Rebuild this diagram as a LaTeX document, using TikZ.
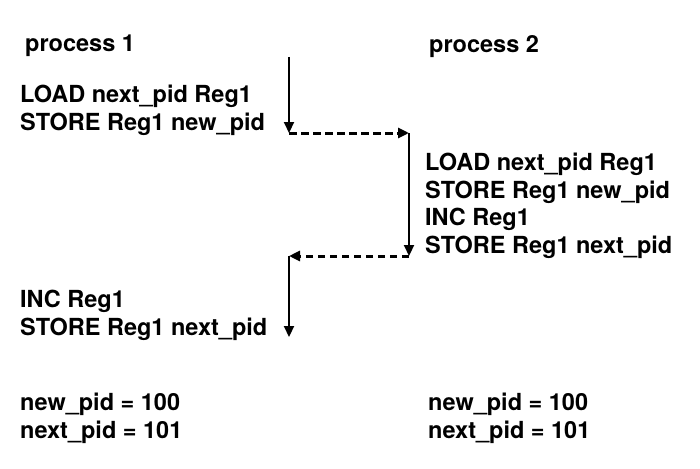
\documentclass[tikz,border=0pt]{standalone}
\usepackage{fontspec}
\setmainfont{TeX Gyre Heros}
\usetikzlibrary{arrows.meta, positioning}

\begin{document}
\begin{tikzpicture}[x=1pt, y=-1pt, every node/.style={font=\fontsize{23.5}{27.5}\selectfont\bfseries}]
  \tikzstyle{code}=[anchor=north west, align=left, inner sep=0pt]
  \tikzstyle{flow}=[-{Triangle[length=11pt, width=10pt]}, line width=2.2pt]
  \tikzstyle{handoff}=[flow, line width=3pt, dash pattern=on 7.5pt off 4.5pt]
  \useasboundingbox (0,0) rectangle (700,468);

  \node[code] (title1) at (25,35) {process 1};
  \node[code] (title2) at (429,35) {process 2};

  \node[code] (p1first) at (20,85) {LOAD next\_pid Reg1\\STORE Reg1 new\_pid};
  \node[code] (p2block) at (425,153) {LOAD next\_pid Reg1\\STORE Reg1 new\_pid\\INC Reg1\\STORE Reg1 next\_pid};
  \node[code] (p1second) at (20,290) {INC Reg1\\STORE Reg1 next\_pid};

  \node[code] (result1) at (20,393) {new\_pid = 100\\next\_pid = 101};
  \node[code] (result2) at (428,393) {new\_pid = 100\\next\_pid = 101};

  \coordinate (p1start) at (289,57);
  \coordinate (p1yield) at (289,133);
  \coordinate (p2start) at (409,133);
  \coordinate (p2yield) at (409,256);
  \coordinate (p1resume) at (289,256);
  \coordinate (p1end) at (289,337);

  \draw[flow] (p1start) -- (p1yield);
  \draw[handoff] (p1yield) -- (p2start);
  \draw[flow] (p2start) -- (p2yield);
  \draw[handoff] (p2yield) -- (p1resume);
  \draw[flow] (p1resume) -- (p1end);
\end{tikzpicture}
\end{document}
